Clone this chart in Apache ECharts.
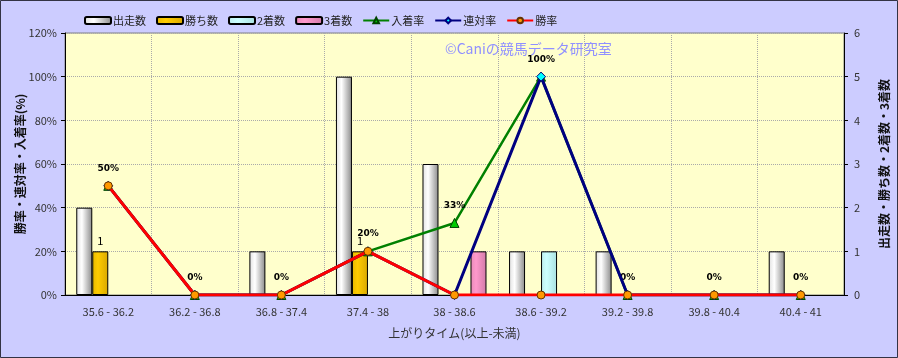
<!DOCTYPE html>
<html><head><meta charset="utf-8">
<script src="https://cdn.jsdelivr.net/npm/echarts@6/dist/echarts.min.js"></script>
<style>html,body{margin:0;padding:0;background:#CCCCFF}#c{width:898px;height:358px}</style>
</head><body><div id="c"></div>
<script>
const categories = ['35.6 - 36.2','36.2 - 36.8','36.8 - 37.4','37.4 - 38','38 - 38.6','38.6 - 39.2','39.2 - 39.8','39.8 - 40.4','40.4 - 41'];
const runs   = [2,0,1,5,3,1,1,0,1];
const wins   = [1,0,0,1,0,0,0,0,0];
const second = [0,0,0,0,0,1,0,0,0];
const third  = [0,0,0,0,1,0,0,0,0];
const placeRate = [50,0,0,20,33,100,0,0,0];
const quinellaRate = [50,0,0,20,0,100,0,0,0];
const winRate = [50,0,0,20,0,0,0,0,0];
const leftTicks = {min:0,max:120,interval:20};
const rightTicks = {min:0,max:6,interval:1};

const FONT = '"Noto Sans CJK JP", sans-serif';
function grad(c0,c1,c2){return {type:'linear',x:0,y:0,x2:1,y2:0,colorStops:[{offset:0,color:c0},{offset:0.35,color:c1},{offset:1,color:c2}]};}
const nz = arr => arr.map(v => v === 0 ? '-' : v);
const chart = echarts.init(document.getElementById('c'));
const barBase = {type:'bar', yAxisIndex:1, barWidth:16, barGap:'0%'};
chart.setOption({
  backgroundColor:'#CCCCFF',
  animation:false,
  textStyle:{fontFamily:FONT},
  graphic:[
    {type:'rect',shape:{x:0.5,y:0.5,width:897,height:357},style:{fill:'none',stroke:'#333344',lineWidth:1},z:100},
    {type:'text',left:445,top:42,style:{text:'©Caniの競馬データ研究室',fill:'#9090FF',font:'14px '+FONT},z:1}
  ],
  legend:{top:10,left:79,itemWidth:26,itemHeight:7,itemGap:10,textStyle:{fontFamily:FONT,fontSize:11,color:'#222',padding:[0,0,0,-3]},
    data:['出走数','勝ち数','2着数','3着数','入着率','連対率','勝率']},
  grid:{left:65,right:53,top:33,bottom:63,show:true,backgroundColor:'#FFFFCC',borderColor:'#808080',borderWidth:1},
  xAxis:{type:'category',data:categories,boundaryGap:true,
    axisLine:{lineStyle:{color:'#000'}},axisTick:{show:false},
    axisLabel:{color:'#333',fontSize:11,margin:11,fontFamily:FONT},
    splitLine:{show:true,lineStyle:{color:'#aaaaaa',type:'dotted'}},
    name:'上がりタイム(以上-未満)',nameLocation:'middle',nameGap:32,nameTextStyle:{color:'#333',fontSize:12,fontFamily:FONT}},
  yAxis:[
    {type:'value',min:leftTicks.min,max:leftTicks.max,interval:leftTicks.interval,position:'left',
      axisLine:{show:true,lineStyle:{color:'#000'}},axisTick:{show:true,length:4,lineStyle:{color:'#000'}},
      axisLabel:{formatter:'{value}%',color:'#333',fontSize:11,margin:8,fontFamily:FONT},
      splitLine:{show:true,lineStyle:{color:'#aaaaaa',type:'dotted'}},
      name:'勝率・連対率・入着率(%)',nameLocation:'middle',nameGap:39,nameRotate:90,nameMoveOverlap:false,
      nameTextStyle:{color:'#111',fontSize:12,fontWeight:'bold',fontFamily:FONT}},
    {type:'value',min:rightTicks.min,max:rightTicks.max,interval:rightTicks.interval,position:'right',
      axisLine:{show:true,lineStyle:{color:'#000'}},axisTick:{show:true,length:4,lineStyle:{color:'#000'}},
      axisLabel:{color:'#333',fontSize:11,margin:10,fontFamily:FONT},
      splitLine:{show:false},
      name:'出走数・勝ち数・2着数・3着数',nameLocation:'middle',nameGap:34,nameRotate:90,nameMoveOverlap:false,
      nameTextStyle:{color:'#111',fontSize:12,fontWeight:'bold',fontFamily:FONT}}
  ],
  series:[
    Object.assign({},barBase,{name:'出走数',data:nz(runs),itemStyle:{borderColor:'#000',borderWidth:1,color:grad('#e0e0e0','#ffffff','#8a8a8a')}}),
    Object.assign({},barBase,{name:'勝ち数',data:nz(wins),itemStyle:{borderColor:'#000',borderWidth:1,color:grad('#e6b800','#ffcc00','#d9a800')},
      label:{show:true,position:'top',color:'#000',fontSize:11,formatter:p=>String(p.value)}}),
    Object.assign({},barBase,{name:'2着数',data:nz(second),itemStyle:{borderColor:'#000',borderWidth:1,color:grad('#bdeeee','#ccffff','#a8e0e0')}}),
    Object.assign({},barBase,{name:'3着数',data:nz(third),itemStyle:{borderColor:'#000',borderWidth:1,color:grad('#e88ab8','#ff99cc','#d27aa8')}}),
    {name:'入着率',type:'line',yAxisIndex:0,data:placeRate,symbol:'triangle',symbolSize:9,z:3,
      lineStyle:{color:'#008000',width:2.5},itemStyle:{color:'#00CC00',borderColor:'#004400',borderWidth:1},
      label:{show:true,position:'top',distance:8,formatter:'{c}%',color:'#000',fontSize:9,fontWeight:'bold',fontFamily:'"DejaVu Sans", sans-serif'}},
    {name:'連対率',type:'line',yAxisIndex:0,data:quinellaRate,symbol:'diamond',symbolSize:9,z:4,
      lineStyle:{color:'#000080',width:3},itemStyle:{color:'#00FFFF',borderColor:'#000080',borderWidth:1}},
    {name:'勝率',type:'line',yAxisIndex:0,data:winRate,symbol:'circle',symbolSize:8,z:5,
      lineStyle:{color:'#FF0000',width:3},itemStyle:{color:'#FF9900',borderColor:'#663300',borderWidth:1}}
  ]
});
</script></body></html>
